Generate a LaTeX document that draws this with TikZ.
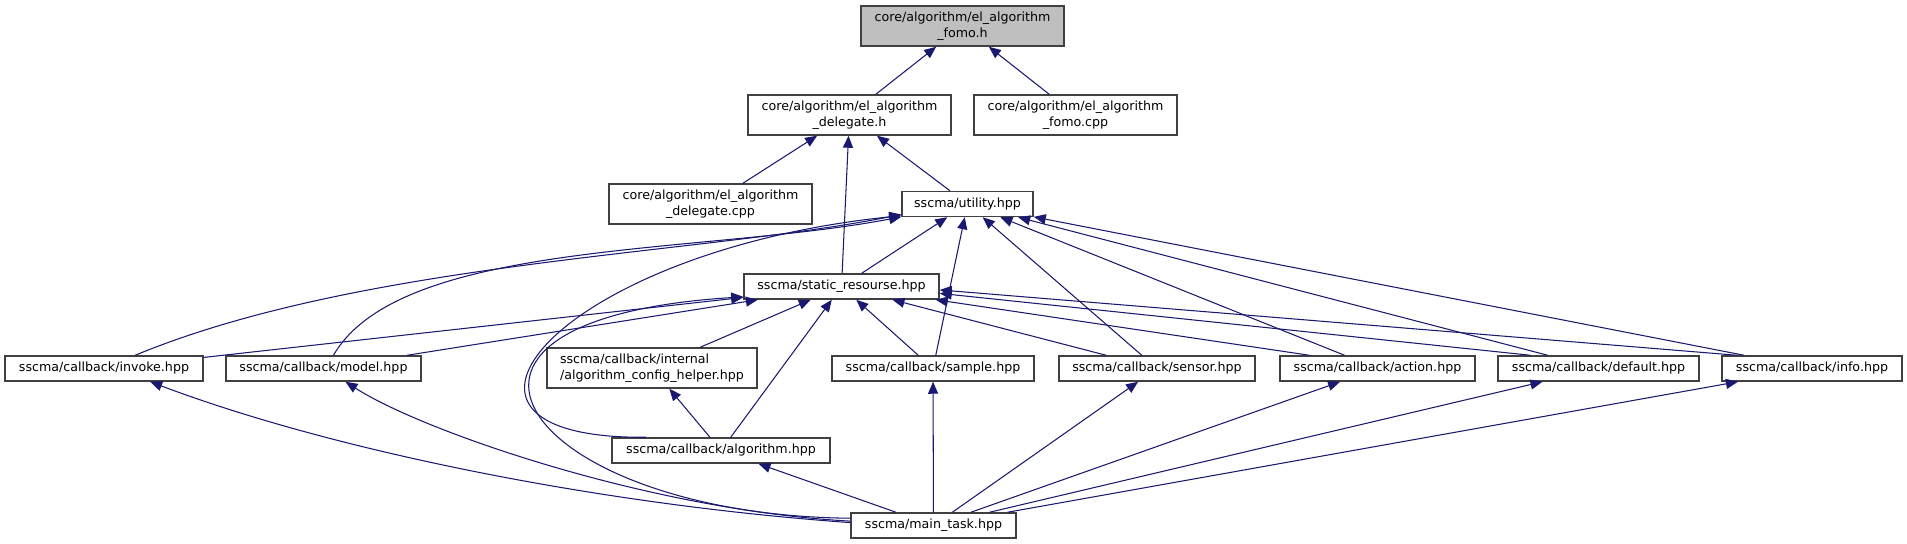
\documentclass[tikz,border=0pt]{standalone}
\usepackage{fontspec}
\setsansfont{DejaVu Sans}
\usepackage{xcolor}
\definecolor{edgeBlue}{HTML}{191970}
\definecolor{boxGray}{HTML}{404040}
\definecolor{rootFill}{HTML}{BFBFBF}
\usetikzlibrary{arrows.meta}

\begin{document}
\begin{tikzpicture}[
  x=0.02cm, y=-0.02cm,
  font=\sffamily\fontsize{7.2}{9.1}\selectfont,
  file/.style={draw=boxGray,line width=0.85pt,fill=white,inner sep=0pt,
               minimum height=0.5cm,align=center},
  file2/.style={file,minimum height=0.8cm},
  boxw/.style={minimum width=#1*0.02cm},
  dep/.style={-{Triangle[length=0.24cm,width=0.2cm]},line width=0.6pt,edgeBlue}
]
\useasboundingbox (0,0) rectangle (1907,544);

\node[file2,boxw=203,fill=rootFill] (fomoh) at (962.5,26) {core/algorithm/el\_algorithm\\\_fomo.h};
\node[file2,boxw=203] (delh) at (849.5,115) {core/algorithm/el\_algorithm\\\_delegate.h};
\node[file2,boxw=203] (fomocpp) at (1075.5,115) {core/algorithm/el\_algorithm\\\_fomo.cpp};
\node[file2,boxw=203] (delcpp) at (710.5,204) {core/algorithm/el\_algorithm\\\_delegate.cpp};
\node[file,boxw=131] (util) at (967.5,204) {sscma/utility.hpp};
\node[file,boxw=195] (stat) at (841.5,286.5) {sscma/static\_resourse.hpp};
\node[file,boxw=198] (invoke) at (104,368.5) {sscma/callback/invoke.hpp};
\node[file,boxw=195] (model) at (323.5,368.5) {sscma/callback/model.hpp};
\node[file2,boxw=210,align=left] (helper) at (652,368) {sscma/callback/internal\\/algorithm\_config\_helper.hpp};
\node[file,boxw=202] (sample) at (933,368.5) {sscma/callback/sample.hpp};
\node[file,boxw=196] (sensor) at (1157,368.5) {sscma/callback/sensor.hpp};
\node[file,boxw=195] (action) at (1377.5,368.5) {sscma/callback/action.hpp};
\node[file,boxw=201] (default) at (1598.5,368.5) {sscma/callback/default.hpp};
\node[file,boxw=180] (info) at (1812,368.5) {sscma/callback/info.hpp};
\node[file,boxw=218] (algo) at (721,450.5) {sscma/callback/algorithm.hpp};
\node[file,boxw=165] (main) at (933.5,525.5) {sscma/main\_task.hpp};

\draw[dep] (delh) -- (fomoh);
\draw[dep] (fomocpp) -- (fomoh);
\draw[dep] (delcpp) -- (delh);
\draw[dep] (stat) -- (delh);
\draw[dep] (util) -- (delh);
\draw[dep] (stat) -- (util);
\draw[dep] (sample) -- (util);
\draw[dep] (sensor) -- (util);
\draw[dep] (action) -- (util);
\draw[dep] (default) -- (util);
\draw[dep] (info) -- (util);
\draw[dep] (invoke.23) .. controls +(227,-94) and +(-200,40) .. (util.189);
\draw[dep] (model.53) .. controls +(67,-116) and +(-200,38) .. (util.191);
\draw[dep] (algo.170) .. controls +(-250,2) and +(-342,35) .. (util.190);
\draw[dep] (invoke) -- (stat);
\draw[dep] (model) -- (stat);
\draw[dep] (helper) -- (stat);
\draw[dep] (algo) -- (stat);
\draw[dep] (sample) -- (stat);
\draw[dep] (sensor) -- (stat);
\draw[dep] (action.169) -- (stat.-8);
\draw[dep] (default.169) -- (stat.-4);
\draw[dep] (info.170) -- (stat.-2);
\draw[dep] (main.175) .. controls +(-321,-3) and +(-364,23) .. (stat.186);
\draw[dep] (algo) -- (helper);
\draw[dep] (main.178) .. controls +(-251,-18) and +(183,69) .. (invoke.-16);
\draw[dep] (main.177) .. controls +(-201,-11) and +(76,49) .. (model.-31);
\draw[dep] (main) -- (algo);
\draw[dep] (main) -- (sample);
\draw[dep] (main) -- (sensor);
\draw[dep] (main) -- (action);
\draw[dep] (main) -- (default);
\draw[dep] (main) -- (info);
\end{tikzpicture}
\end{document}
